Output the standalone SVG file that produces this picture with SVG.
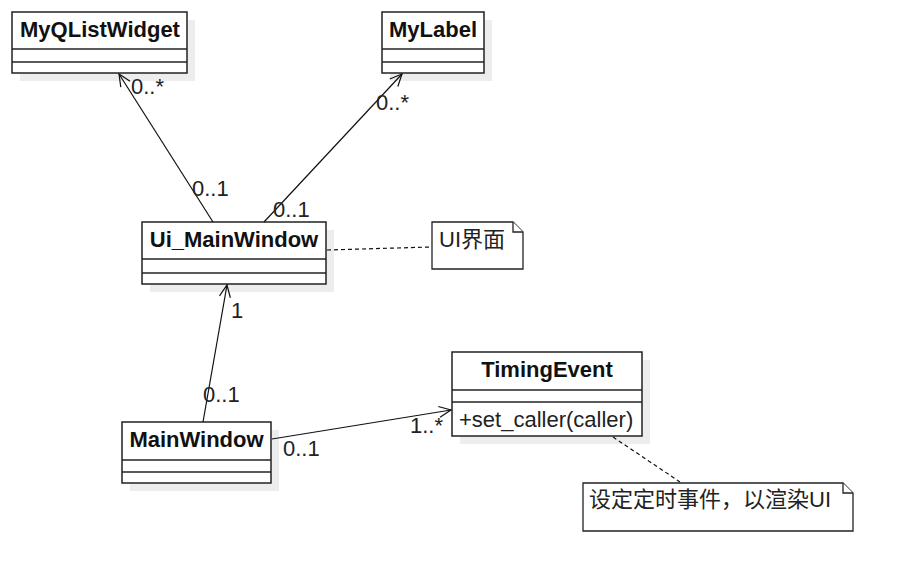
<svg xmlns="http://www.w3.org/2000/svg" width="903" height="581" viewBox="0 0 903 581">
<style>
.shadow{fill:#ededed;stroke:none}
.box{fill:#fff;stroke:#222;stroke-width:1.5}
.sep{stroke:#222;stroke-width:1.5}
.name{font-family:"Liberation Sans",Arial,sans-serif;font-size:22px;font-weight:bold;fill:#111;text-anchor:middle}
.txt{font-family:"Liberation Sans","Noto Sans CJK SC",sans-serif;font-size:22px;fill:#222}
.edge{stroke:#111;stroke-width:1.2;fill:none}
.dash{stroke:#111;stroke-width:1.2;fill:none;stroke-dasharray:4,3}
.note{fill:#fff;stroke:#222;stroke-width:1.3}
</style>
<defs>
<marker id="open" viewBox="0 0 14 14" refX="13" refY="7" markerWidth="14" markerHeight="14" markerUnits="userSpaceOnUse" orient="auto">
<path d="M1,1.5 L13,7 L1,12.5" fill="none" stroke="#111" stroke-width="1.2"/>
</marker>
</defs>
<rect width="903" height="581" fill="#fff"/>

<g id="MyQListWidget">
<rect class="shadow" x="20" y="20" width="175" height="61"/>
<rect class="box" x="12" y="12" width="175" height="61"/>
<line class="sep" x1="12" y1="49" x2="187" y2="49"/>
<line class="sep" x1="12" y1="62" x2="187" y2="62"/>
<text class="name" x="100" y="37">MyQListWidget</text>
</g>

<g id="MyLabel">
<rect class="shadow" x="390" y="20" width="102" height="61"/>
<rect class="box" x="382" y="12" width="102" height="61"/>
<line class="sep" x1="382" y1="49" x2="484" y2="49"/>
<line class="sep" x1="382" y1="62" x2="484" y2="62"/>
<text class="name" x="433" y="37">MyLabel</text>
</g>

<g id="Ui_MainWindow">
<rect class="shadow" x="150" y="230" width="184" height="62"/>
<rect class="box" x="142" y="222" width="184" height="62"/>
<line class="sep" x1="142" y1="259" x2="326" y2="259"/>
<line class="sep" x1="142" y1="273" x2="326" y2="273"/>
<text class="name" x="234" y="247">Ui_MainWindow</text>
</g>

<g id="MainWindow">
<rect class="shadow" x="130" y="430" width="149" height="61"/>
<rect class="box" x="122" y="422" width="149" height="61"/>
<line class="sep" x1="122" y1="460" x2="271" y2="460"/>
<line class="sep" x1="122" y1="472" x2="271" y2="472"/>
<text class="name" x="196.5" y="447">MainWindow</text>
</g>

<g id="TimingEvent">
<rect class="shadow" x="460" y="360" width="190" height="84"/>
<rect class="box" x="452" y="352" width="190" height="84"/>
<line class="sep" x1="452" y1="390" x2="642" y2="390"/>
<line class="sep" x1="452" y1="402" x2="642" y2="402"/>
<text class="name" x="547" y="377">TimingEvent</text>
<text class="txt" x="459" y="427">+set_caller(caller)</text>
</g>

<g id="note_ui">
<path class="note" d="M432,222 L513,222 L523,232 L523,269 L432,269 Z"/>
<path class="note" d="M513,222 L513,232 L523,232" fill="none"/>
<text class="txt" x="439" y="247">UI界面</text>
</g>

<g id="note_timing">
<path class="note" d="M583,483 L843,483 L853,493 L853,531 L583,531 Z"/>
<path class="note" d="M843,483 L843,493 L853,493" fill="none"/>
<text class="txt" x="589" y="507">设定定时事件，以渲染UI</text>
</g>

<g id="connectors">
<line class="edge" x1="213" y1="222" x2="119" y2="74" marker-end="url(#open)"/>
<line class="edge" x1="264" y1="222" x2="402" y2="74" marker-end="url(#open)"/>
<line class="edge" x1="203" y1="422" x2="227" y2="285" marker-end="url(#open)"/>
<line class="edge" x1="272" y1="439" x2="451" y2="410" marker-end="url(#open)"/>
<line class="dash" x1="327" y1="250" x2="431" y2="247"/>
<line class="dash" x1="613" y1="437" x2="680" y2="482"/>
<text class="txt" x="131" y="94">0..*</text>
<text class="txt" x="192" y="196">0..1</text>
<text class="txt" x="376" y="110">0..*</text>
<text class="txt" x="273" y="217">0..1</text>
<text class="txt" x="231" y="318">1</text>
<text class="txt" x="203" y="402">0..1</text>
<text class="txt" x="410" y="433">1..*</text>
<text class="txt" x="283" y="456">0..1</text>
</g>
</svg>
